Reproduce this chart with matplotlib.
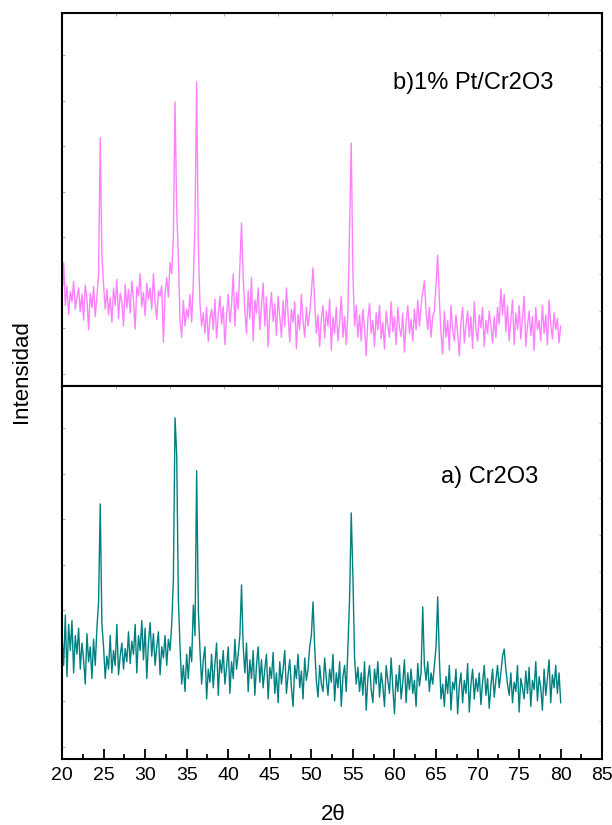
import numpy as np
import matplotlib
matplotlib.use("Agg")
import matplotlib.pyplot as plt

plt.rcParams['font.family'] = ['Liberation Sans', 'DejaVu Sans']

# 2-theta scan, 20-80 deg in 0.2 deg steps
two_theta = np.round(np.arange(20.0, 80.0001, 0.2), 1)

# b) 1% Pt/Cr2O3 (counts, arbitrary units)
pt_cr2o3 = [
    240, 330, 215, 268, 190, 252, 225, 280, 205, 238,
    262, 198, 245, 176, 270, 232, 150, 248, 210, 265,
    185, 240, 300, 664, 350, 270, 205, 258, 190, 236,
    170, 262, 215, 285, 180, 248, 225, 160, 272, 208,
    258, 195, 280, 230, 152, 265, 240, 300, 212, 250,
    188, 275, 232, 262, 205, 300, 222, 178, 255, 240,
    268, 116, 246, 290, 238, 330, 300, 400, 761, 470,
    345, 175, 130, 228, 160, 205, 182, 245, 170, 280,
    430, 814, 380, 220, 160, 195, 140, 210, 118, 180,
    205, 150, 232, 128, 190, 240, 165, 212, 110, 188,
    245, 170, 215, 300, 160, 250, 205, 320, 436, 290,
    200, 140, 255, 180, 290, 120, 230, 195, 262, 150,
    215, 275, 160, 238, 105, 200, 250, 172, 220, 135,
    240, 185, 130, 228, 160, 262, 190, 118, 205, 170,
    225, 100, 190, 150, 245, 175, 130, 210, 160, 195,
    250, 316, 230, 140, 190, 105, 178, 215, 128, 200,
    160, 232, 95, 185, 140, 210, 120, 170, 240, 130,
    185, 110, 200, 420, 650, 300, 160, 215, 130, 190,
    120, 205, 155, 80, 180, 220, 140, 175, 105, 195,
    150, 215, 125, 170, 98, 200, 160, 130, 225, 145,
    185, 110, 210, 155, 132, 195, 90, 170, 215, 140,
    178, 120, 205, 150, 230, 160, 215, 250, 281, 200,
    150, 210, 130, 185, 200, 270, 350, 230, 140, 85,
    200, 130, 175, 95, 215, 150, 120, 190, 140, 80,
    170, 210, 115, 160, 200, 130, 185, 100, 225, 150,
    120, 190, 155, 210, 105, 175, 140, 200, 160, 115,
    185, 130, 210, 165, 260, 190, 245, 145, 215, 120,
    175, 230, 110, 195, 150, 215, 125, 180, 240, 105,
    160, 200, 135, 185, 95, 210, 150, 175, 120, 215,
    140, 190, 110, 230, 165, 125, 195, 150, 180, 115,
    160,
]

# a) Cr2O3 (counts, arbitrary units)
cr2o3 = [
    330, 250, 385, 220, 360, 290, 370, 230, 330, 280,
    350, 240, 310, 265, 200, 335, 260, 300, 215, 320,
    250, 350, 420, 683, 360, 300, 215, 275, 240, 330,
    230, 290, 250, 360, 225, 275, 310, 240, 295, 260,
    340, 255, 315, 280, 360, 230, 330, 290, 370, 265,
    350, 215, 310, 365, 275, 335, 250, 300, 340, 225,
    300, 270, 330, 250, 320, 290, 360, 480, 914, 815,
    430, 300, 200, 250, 180, 280, 215, 300, 260, 412,
    330, 772, 400, 290, 200, 265, 300, 160, 240, 205,
    280, 190, 255, 310, 170, 265, 230, 290, 200, 245,
    300, 175, 260, 215, 320, 240, 280, 330, 466, 300,
    230, 310, 180, 265, 215, 290, 170, 250, 300, 205,
    265, 190, 240, 280, 160, 245, 215, 285, 175, 230,
    150, 260, 200, 240, 290, 175, 225, 265, 190, 140,
    250, 215, 280, 190, 235, 160, 270, 210, 240, 300,
    330, 420, 300, 210, 165, 250, 200, 180, 270, 215,
    170, 240, 205, 280, 155, 230, 190, 260, 140, 220,
    250, 180, 300, 430, 659, 488, 270, 200, 245, 180,
    230, 170, 260, 130, 215, 250, 185, 150, 240, 200,
    260, 165, 230, 195, 140, 250, 210, 175, 270, 190,
    120, 225, 180, 250, 160, 205, 265, 150, 230, 185,
    240, 175, 210, 140, 255, 195, 230, 407, 250, 210,
    260, 180, 230, 200, 250, 300, 434, 270, 160, 200,
    140, 220, 175, 250, 130, 205, 185, 240, 120, 195,
    230, 150, 210, 175, 255, 125, 200, 240, 160, 215,
    180, 230, 145, 205, 250, 170, 215, 135, 195, 240,
    165, 210, 250, 190, 230, 275, 294, 240, 200, 170,
    230, 150, 205, 180, 250, 125, 215, 190, 160, 235,
    175, 245, 140, 210, 185, 260, 155, 220, 190, 130,
    240, 170, 215, 265, 150, 225, 190, 250, 175, 230,
    150,
]

x_ticks = [20, 25, 30, 35, 40, 45, 50, 55, 60, 65, 70, 75, 80, 85]
y_ticks = [32, 154, 276, 398, 520, 642, 764, 886]

fig = plt.figure(figsize=(6.12, 8.25), dpi=100)
left, width = 0.1013, 0.8828
ax_top = fig.add_axes([left, 0.5325, width, 0.4521])
ax_bot = fig.add_axes([left, 0.0804, width, 0.4521])

for ax in (ax_top, ax_bot):
    ax.set_xlim(20, 85)
    ax.set_ylim(0, 1000)
    for sp in ax.spines.values():
        sp.set_linewidth(1.5)
    ax.set_yticks(y_ticks)
    ax.set_yticklabels([])
    ax.tick_params(axis='y', direction='in', length=2, width=0.6, color='#999999')
    # frame ticks at ten equal divisions on the top and right edges
    sx = ax.secondary_xaxis('top', functions=(lambda v: (v - 20) / 6.5, lambda v: v * 6.5 + 20))
    sx.set_xticks(range(1, 10))
    sx.set_xticklabels([])
    sx.tick_params(direction='in', length=2, width=0.6, color='#999999')
    sy = ax.secondary_yaxis('right', functions=(lambda v: v / 100, lambda v: v * 100))
    sy.set_yticks(range(1, 10))
    sy.set_yticklabels([])
    sy.tick_params(direction='in', length=2, width=0.6, color='#999999')
    for sp in list(sx.spines.values()) + list(sy.spines.values()):
        sp.set_visible(False)

ax_top.plot(two_theta, pt_cr2o3, color='#FF80FF', lw=1.0)
ax_bot.plot(two_theta, cr2o3, color='#008080', lw=1.0)

ax_top.tick_params(axis='x', bottom=False, labelbottom=False)
ax_bot.set_xticks(x_ticks)
ax_bot.set_xticks(np.arange(22.5, 85, 5), minor=True)
ax_bot.tick_params(axis='x', which='major', direction='in', length=7, width=1.3,
                   labelsize=14, pad=6)
ax_bot.tick_params(axis='x', which='minor', direction='in', length=3.5, width=1.3)

ax_top.text(59.8, 811, 'b)1% Pt/Cr2O3', fontsize=17, ha='left', va='center')
ax_bot.text(65.6, 756, 'a) Cr2O3', fontsize=17, ha='left', va='center')

fig.text(333 / 612, 1 - 815 / 825, '2θ', fontsize=16, ha='center', va='center')
fig.text(22 / 612, 1 - 372 / 825, 'Intensidad', fontsize=16, ha='center', va='center',
         rotation=90)

fig.savefig('out.png', dpi=100)
